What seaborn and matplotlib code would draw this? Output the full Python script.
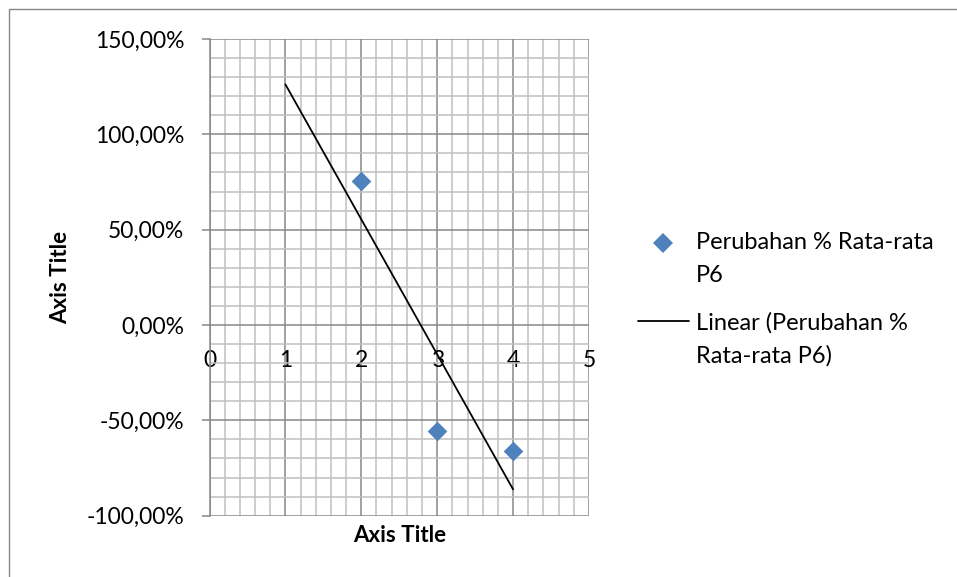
import numpy as np
import pandas as pd
import matplotlib
matplotlib.use("Agg")
import matplotlib.pyplot as plt
from matplotlib.ticker import FuncFormatter, MultipleLocator
from matplotlib.lines import Line2D
import seaborn as sns

# ---- data ----
x_values = [2, 3, 4]
y_values = [0.755, -0.556, -0.661]
trend_x_range = [1, 4]
series_label = "Perubahan % Rata-rata\nP6"
trend_label = "Linear (Perubahan %\nRata-rata P6)"
x_title = "Axis Title"
y_title = "Axis Title"
x_ticks = [0, 1, 2, 3, 4, 5]
y_ticks = [-1.0, -0.5, 0.0, 0.5, 1.0, 1.5]

sns.set_theme(style="white")
plt.rcParams['font.family'] = ['Lato', 'DejaVu Sans']

fig = plt.figure(figsize=(9.57, 5.77), dpi=100)
ax = fig.add_axes([209.5/957, 1 - 515.7/577, (589 - 209.5)/957, (515.7 - 39)/577])

blue = "#4F81BD"
df = pd.DataFrame({"x": x_values, "y": y_values})
slope, intercept = np.polyfit(df["x"], df["y"], 1)
tx = np.array(trend_x_range, dtype=float)
tdf = pd.DataFrame({"x": tx, "y": slope * tx + intercept})

# grid
ax.set_xlim(0, 5)
ax.set_ylim(-1.0, 1.5)
ax.xaxis.set_major_locator(MultipleLocator(1))
ax.xaxis.set_minor_locator(MultipleLocator(0.2))
ax.yaxis.set_major_locator(MultipleLocator(0.5))
ax.yaxis.set_minor_locator(MultipleLocator(0.1))
ax.grid(which="minor", color="#C0C0C0", linewidth=1.1)
ax.grid(which="major", color="#878787", linewidth=1.1)
ax.set_axisbelow(True)

sns.lineplot(data=tdf, x="x", y="y", ax=ax, color="black", linewidth=1.3,
             legend=False, zorder=3)
sns.scatterplot(data=df, x="x", y="y", ax=ax, marker="D", s=100, color=blue,
                edgecolor=blue, linewidth=0, legend=False, zorder=4)

ax.set_xticks(x_ticks)
ax.set_yticks(y_ticks)
ax.yaxis.set_major_formatter(FuncFormatter(
    lambda v, p: ("%.2f%%" % (v * 100)).replace(".", ",")))
ax.set_xlabel("")
ax.set_ylabel("")

for s in ["top", "right", "bottom"]:
    ax.spines[s].set_visible(False)
ax.spines["left"].set_color("#878787")
ax.spines["left"].set_linewidth(1.1)
ax.spines["bottom"].set_position(("data", 0))

ax.tick_params(axis="y", which="major", left=True, length=6, width=1.1,
               color="#878787", pad=12, labelsize=16.5, labelcolor="black")
ax.tick_params(axis="y", which="minor", left=False)
ax.tick_params(axis="x", which="both", bottom=False, length=0)
ax.tick_params(axis="x", which="major", pad=18, labelsize=16.5, labelcolor="black")

# axis titles
fig.text(400/957, 1 - 536/577, x_title, ha="center", va="center",
         fontsize=16, fontweight="bold", color="black")
fig.text(61/957, 1 - 277/577, y_title, ha="center", va="center", rotation=90,
         fontsize=16, fontweight="bold", color="black")

# legend (manual)
fig.add_artist(Line2D([663/957], [1 - 243/577], marker="D", markersize=10,
                      color=blue, markeredgewidth=0, linestyle="none",
                      transform=fig.transFigure))
fig.add_artist(Line2D([638/957, 689/957], [1 - 321/577, 1 - 321/577],
                      color="black", linewidth=1.3, transform=fig.transFigure))
for i, line in enumerate(series_label.split("\n")):
    fig.text(696/957, 1 - (249 + 33*i)/577, line, ha="left", va="baseline",
             fontsize=17, color="black")
for i, line in enumerate(trend_label.split("\n")):
    fig.text(696/957, 1 - (330 + 33*i)/577, line, ha="left", va="baseline",
             fontsize=17, color="black")

# outer border (left & top)
fig.add_artist(Line2D([9/957, 9/957, 1.0], [0.0, 1 - 9/577, 1 - 9/577],
                      color="#868686", linewidth=1.0, transform=fig.transFigure))

fig.savefig("out.png", dpi=100)
